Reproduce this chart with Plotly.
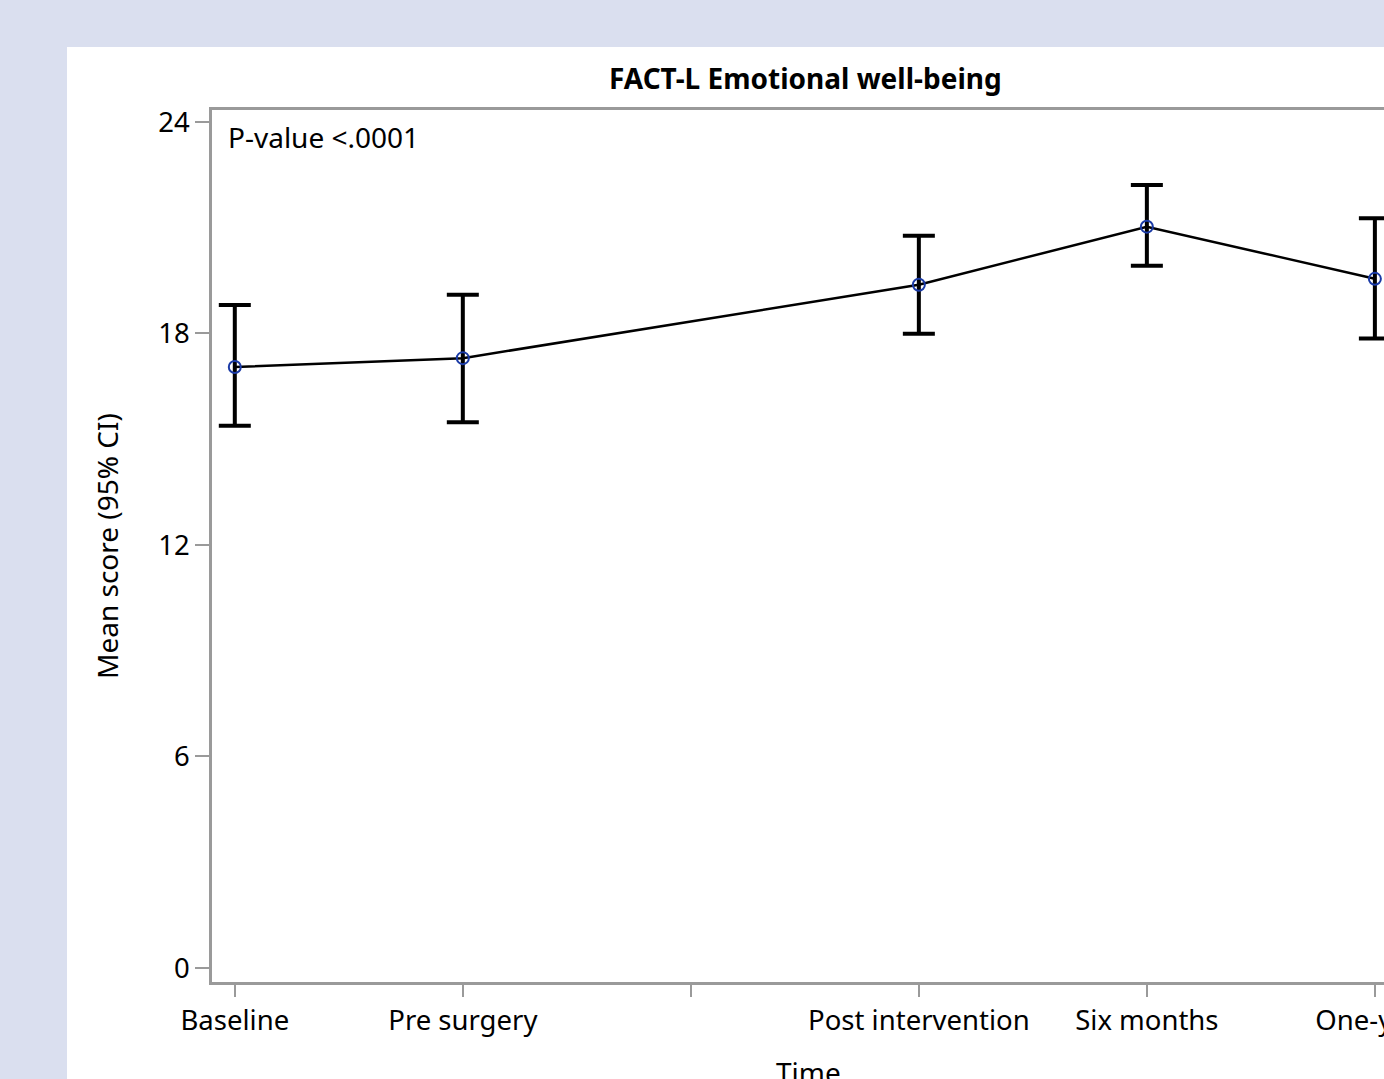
import plotly.graph_objects as go

categories = ["Baseline", "Pre surgery", "", "Post intervention", "Six months", "One-year"]
mean_score = [17.05, 17.30, None, 19.38, 21.03, 19.55]
upper_ci = [18.81, 19.10, None, 20.77, 22.21, 21.27]
lower_ci = [15.38, 15.48, None, 17.99, 19.92, 17.86]
y_ticks = [0, 6, 12, 18, 24]

x_pos = list(range(len(categories)))
err_plus = [None if m is None else u - m for m, u in zip(mean_score, upper_ci)]
err_minus = [None if m is None else m - l for m, l in zip(mean_score, lower_ci)]

W, H = 1384, 1079
L, T, B = 212, 110, 97
PW, PH = W - L, H - T - B

def px_x(x):
    return (x - L) / PW

def px_y(y):
    return ((H - y) - B) / PH

FONT = "Noto Sans"

fig = go.Figure()
fig.add_trace(go.Scatter(
    x=x_pos, y=mean_score,
    mode="lines+markers",
    connectgaps=True,
    cliponaxis=False,
    line=dict(color="black", width=2.5),
    marker=dict(symbol="circle-open", size=12, color="#1a3aa6", line=dict(width=2)),
    error_y=dict(type="data", symmetric=False, array=err_plus, arrayminus=err_minus,
                 color="black", thickness=4, width=16),
    showlegend=False,
))

fig.update_layout(
    width=W, height=H,
    margin=dict(l=L, r=0, t=T, b=B, autoexpand=False),
    paper_bgcolor="#dadfef",
    plot_bgcolor="white",
    font=dict(family=FONT, size=28, color="black"),
    xaxis=dict(
        range=[-0.1, 5.04], tickvals=x_pos, ticktext=categories,
        showline=True, linecolor="#9a9a9a", linewidth=2.5, mirror=True,
        ticks="outside", ticklen=12, tickwidth=2, tickcolor="#9a9a9a",
        showgrid=False, zeroline=False, ticklabeloverflow="allow",
        tickfont=dict(family=FONT, size=27.5, color="black"),
    ),
    yaxis=dict(
        range=[-0.4, 24.34], tickvals=y_ticks,
        showline=True, linecolor="#9a9a9a", linewidth=2.5, mirror=False,
        ticks="outside", ticklen=14, tickwidth=2, tickcolor="#9a9a9a",
        showgrid=False, zeroline=False,
        tickfont=dict(family=FONT, size=27.5, color="black"),
    ),
    shapes=[dict(type="rect", xref="paper", yref="paper",
                 x0=px_x(67), x1=1.2, y0=px_y(1200), y1=px_y(47),
                 fillcolor="white", line=dict(width=0), layer="below")],
    annotations=[
        dict(text="<b>FACT-L Emotional well-being</b>", xref="paper", yref="paper",
             x=px_x(805), y=px_y(78), xanchor="center", yanchor="middle",
             showarrow=False, font=dict(family=FONT, size=28, color="black")),
        dict(text="P-value <.0001", xref="paper", yref="paper",
             x=px_x(226), y=px_y(137), xanchor="left", yanchor="middle",
             showarrow=False, font=dict(family=FONT, size=28, color="black")),
        dict(text="Mean score (95% CI)", xref="paper", yref="paper",
             x=px_x(107), y=px_y(546), xanchor="center", yanchor="middle",
             textangle=-90, showarrow=False, font=dict(family=FONT, size=28, color="black")),
        dict(text="Time", xref="paper", yref="paper",
             x=px_x(808), y=px_y(1072), xanchor="center", yanchor="middle",
             showarrow=False, font=dict(family=FONT, size=28, color="black")),
    ],
)

fig.write_html("out.html", config={"displayModeBar": False},
               post_script="document.body.style.margin='0';")
